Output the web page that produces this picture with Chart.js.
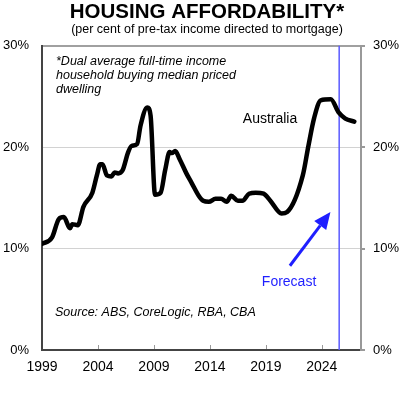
<!DOCTYPE html>
<html>
<head>
<meta charset="utf-8">
<script src="https://cdn.jsdelivr.net/npm/chart.js@4/dist/chart.umd.min.js"></script>
<style>
  html, body { margin: 0; padding: 0; background: #fff; }
  canvas { display: block; }
</style>
</head>
<body>
<canvas id="chart" width="414" height="397"></canvas>
<script>
// Australia: share of pre-tax income going to mortgage
const years = [
  1999.0, 1999.9, 2000.5, 2000.95, 2001.5, 2001.7, 2002.2, 2002.7, 2003.5, 2003.9,
  2004.2, 2004.4, 2004.8, 2005.2, 2005.5, 2005.8, 2006.2, 2006.7, 2007.0, 2007.5,
  2007.8, 2008.4, 2008.7, 2009.1, 2009.6, 2010.0, 2010.4, 2010.6, 2010.9, 2011.3,
  2011.9, 2012.4, 2013.0, 2013.4, 2013.9, 2014.5, 2015.0, 2015.5, 2015.9, 2016.5,
  2016.9, 2017.5, 2018.1, 2018.8, 2019.4, 2020.4, 2020.9, 2022.3, 2022.8, 2023.3,
  2023.9, 2024.8, 2025.5, 2026.1, 2026.9,
]
const australia = [
  10.45, 11.1, 12.9, 13.1, 12.0, 12.4, 12.3, 14.1, 15.5, 17.2,
  18.3, 18.3, 17.2, 17.1, 17.5, 17.4, 17.7, 19.5, 20.1, 20.3,
  22.1, 23.9, 23.1, 15.3, 15.5, 17.7, 19.5, 19.4, 19.6, 18.8,
  17.4, 16.4, 15.2, 14.7, 14.6, 14.9, 14.9, 14.6, 15.2, 14.7,
  14.7, 15.4, 15.5, 15.4, 14.7, 13.45, 13.6, 17.2, 20.1, 22.8,
  24.6, 24.7, 23.4, 22.8, 22.5,
]
const tickYears = [1999, 2004, 2009, 2014, 2019, 2024]
const yTicks = [0, 10, 20, 30]
const forecastYear = 2025.55
// arrow pointing at the forecast line, in data units
const arrowFrom = { x: 2021.15, y: 8.3 }
const arrowTo = { x: 2024.77, y: 13.6 }

const font = '"Liberation Sans", Arial, sans-serif'
const blue = '#1f1fff'

const setTicks = values => scale => {
  scale.ticks = values.map(v => ({ value: v }))
}

const annotations = {
  id: 'annotations',
  afterDatasetsDraw: chart => {
    const ctx = chart.ctx
    const { left, top, bottom } = chart.chartArea
    const x = chart.scales.x
    const y = chart.scales.y

    ctx.save()
    // little inward ticks on the x axis
    ctx.strokeStyle = '#999'
    ctx.lineWidth = 1
    tickYears.slice(1).forEach(t => {
      const px = Math.round(x.getPixelForValue(t)) + 0.5
      ctx.beginPath()
      ctx.moveTo(px, bottom - 1)
      ctx.lineTo(px, bottom - 5)
      ctx.stroke()
    })

    ctx.fillStyle = '#000'
    ctx.textBaseline = 'middle'
    ctx.textAlign = 'left'
    ctx.font = `italic 12.5px ${font}`
    ;['*Dual average full-time income', 'household buying median priced', 'dwelling']
      .forEach((line, i) => ctx.fillText(line, left + 14, top + 16 + i * 14))
    ctx.fillText('Source: ABS, CoreLogic, RBA, CBA', left + 13, bottom - 37)

    ctx.font = `14px ${font}`
    ctx.fillText('Australia', x.getPixelForValue(2016.94), y.getPixelForValue(22.7))
    ctx.fillStyle = blue
    ctx.fillText('Forecast', x.getPixelForValue(2018.64), y.getPixelForValue(6.7))

    // arrow
    const x0 = x.getPixelForValue(arrowFrom.x)
    const y0 = y.getPixelForValue(arrowFrom.y)
    const x1 = x.getPixelForValue(arrowTo.x)
    const y1 = y.getPixelForValue(arrowTo.y)
    const ang = Math.atan2(y1 - y0, x1 - x0)
    const headLen = 17
    const headHalf = 7.5
    const bx = x1 - headLen * Math.cos(ang)
    const by = y1 - headLen * Math.sin(ang)
    ctx.strokeStyle = blue
    ctx.lineWidth = 3
    ctx.beginPath()
    ctx.moveTo(x0, y0)
    ctx.lineTo(bx, by)
    ctx.stroke()
    ctx.beginPath()
    ctx.moveTo(x1, y1)
    ctx.lineTo(bx + headHalf * Math.sin(ang), by - headHalf * Math.cos(ang))
    ctx.lineTo(bx - headHalf * Math.sin(ang), by + headHalf * Math.cos(ang))
    ctx.closePath()
    ctx.fill()
    ctx.restore()
  },
}

Chart.defaults.font.family = font
Chart.defaults.color = '#000'

new Chart(document.getElementById('chart'), {
  type: 'line',
  data: {
    datasets: [
      {
        label: 'Australia',
        data: years.map((yr, i) => ({ x: yr, y: australia[i] })),
        borderColor: '#000',
        borderWidth: 4.5,
        borderJoinStyle: 'round',
        borderCapStyle: 'round',
        cubicInterpolationMode: 'monotone',
        pointRadius: 0,
        yAxisID: 'y',
        order: 1,
      },
      {
        label: 'Forecast',
        data: [{ x: forecastYear, y: 0 }, { x: forecastYear, y: 30 }],
        borderColor: '#5a5aff',
        borderWidth: 1.5,
        pointRadius: 0,
        yAxisID: 'y',
        order: 2,
      },
    ],
  },
  options: {
    animation: false,
    responsive: false,
    layout: { padding: 0 },
    plugins: {
      legend: { display: false },
      tooltip: { enabled: false },
      title: {
        display: true,
        text: 'HOUSING AFFORDABILITY*',
        color: '#000',
        font: { size: 20.5, weight: 'bold', lineHeight: 1 },
        padding: { top: 2, bottom: 0 },
      },
      subtitle: {
        display: true,
        text: '(per cent of pre-tax income directed to mortgage)',
        color: '#000',
        font: { size: 12.5, lineHeight: 1.2 },
        padding: { top: 0, bottom: 8 },
      },
    },
    scales: {
      x: {
        type: 'linear',
        min: 1999,
        max: 2027.5,
        afterBuildTicks: setTicks(tickYears),
        afterFit: s => { s.height = 47 },
        grid: { display: false, drawTicks: false },
        border: { display: true, color: '#444', width: 2 },
        ticks: {
          font: { size: 14 },
          padding: 9,
          maxRotation: 0,
          autoSkip: false,
          callback: v => String(v),
        },
      },
      y: {
        position: 'left',
        min: 0,
        max: 30,
        afterBuildTicks: setTicks(yTicks),
        afterFit: s => { s.width = 42 },
        grid: {
          drawTicks: false,
          color: c => c.tick.value === 30 ? '#a0a0a0' : c.tick.value === 0 ? 'rgba(0,0,0,0)' : '#d2d2d2',
          lineWidth: c => c.tick.value === 30 ? 2 : 1,
        },
        border: { display: true, color: '#444', width: 2 },
        ticks: { font: { size: 13 }, padding: 13, callback: v => v + '%' },
      },
      y2: {
        position: 'right',
        min: 0,
        max: 30,
        afterBuildTicks: setTicks(yTicks),
        afterFit: s => { s.width = 53 },
        grid: { drawOnChartArea: false, drawTicks: true, tickLength: 4, color: '#999', lineWidth: 2 },
        border: { display: true, color: '#999', width: 2 },
        ticks: { font: { size: 13 }, padding: 8, callback: v => v + '%' },
      },
    },
  },
  plugins: [annotations],
})
</script>
</body>
</html>
